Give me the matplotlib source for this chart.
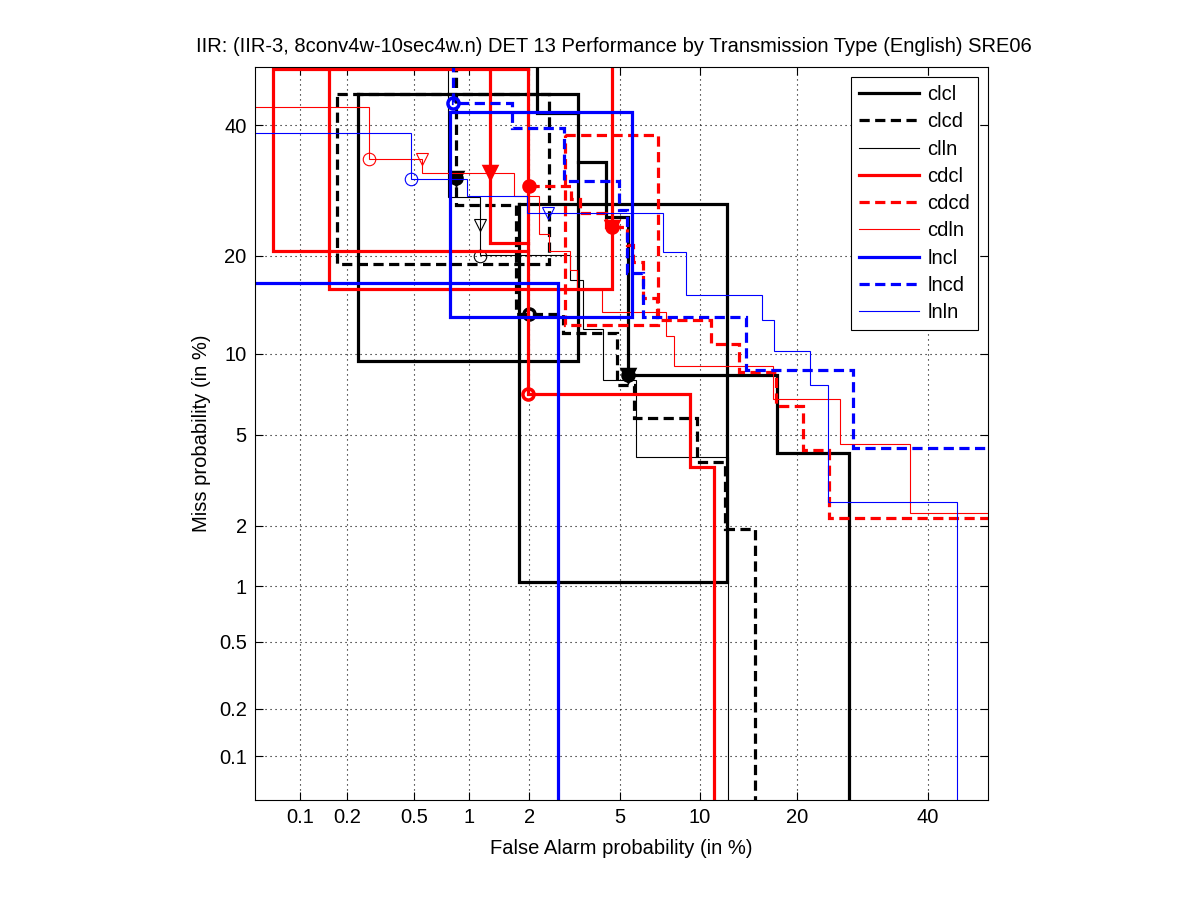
import math
import numpy as np
import matplotlib
matplotlib.use('Agg')
import matplotlib.pyplot as plt
from matplotlib.lines import Line2D

N = np.nan

# DET curves, (false alarm %, miss %); nan breaks a curve into pieces
clcl_fa = [0.233, 3.33, 3.33, 0.233, 0.233, N, 2.18, 2.18, 3.33, N,
           3.33, 4.38, 4.38, 5.41, 5.41, 17.5, 17.5, 27.2, 27.2, N,
           1.79, 12.3, 12.3, 1.79, 1.79]
clcl_miss = [45.4, 45.4, 9.44, 9.44, 45.4, N, 100, 42.1, 42.1, N,
             33.8, 33.8, 25.3, 25.3, 8.42, 8.42, 4.2, 4.2, 0, N,
             27.2, 27.2, 1.05, 1.05, 27.2]

clcd_fa = [0.173, 2.48, 2.48, 0.173, 0.173, N, 0.851, 0.851, 1.73, 1.73, 2.86,
           2.86, 4.89, 4.89, 5.70, 5.70, 9.76, 9.76, 12.12, 12.12, 15.07, 15.07]
clcd_miss = [45.4, 45.4, 19.0, 19.0, 45.4, N, 100, 27.0, 27.0, 13.5, 13.5,
             11.74, 11.74, 7.75, 7.75, 5.83, 5.83, 3.86, 3.86, 1.93, 1.93, 0]

clln_fa = [0.771, 0.771, 1.14, 1.14, 3.08, 3.08, 3.5, 3.5, 4.26, 4.26,
           5.81, 5.81, 12.43, 12.43]
clln_miss = [100, 28.25, 28.25, 20.1, 20.1, 17.1, 17.1, 12.07, 12.07, 8.08,
             8.08, 4.05, 4.05, 0]

cdcl_fa = [1.98, 0.066, 0.066, 1.98, N, 0.154, 0.154, 4.64, 4.64, N,
           1.29, 1.29, 1.98, N, 1.98, 1.98, 9.2, 9.2, 11.15, 11.15]
cdcl_miss = [49.9, 49.9, 20.65, 20.65, N, 100, 16.1, 16.1, 100, N,
             100, 21.6, 21.6, N, 100, 7.2, 7.2, 3.65, 3.65, 0]

cdcd_fa = [2.93, 7.03, 7.03, 2.93, 2.93, N, 2.0, 3.12, 3.12, 3.4, 3.4, 4.4,
           4.4, 5.35, 5.35, 5.65, 5.65, 6.2, 6.2, 7.0, 7.0, 10.9, 10.9, 13.4,
           13.4, 17.4, 17.4, 20.7, 20.7, 24.2, 24.2, 100]
cdcd_miss = [38.3, 38.3, 12.47, 12.47, 38.3, N, 29.9, 29.9, 27.9, 27.9, 25.8,
             25.8, 23.8, 23.8, 21.4, 21.4, 19.2, 19.2, 15.1, 15.1, 12.9, 12.9,
             10.8, 10.8, 8.65, 8.65, 6.45, 6.45, 4.32, 4.32, 2.17, 2.17]

cdln_fa = [0, 0.274, 0.274, 0.554, 0.554, 1.68, 1.68, 2.23, 2.23, 2.48, 2.48,
           3.08, 3.08, 3.3, 3.3, 4.21, 4.21, 7.56, 7.56, 8.1, 8.1, 17.1, 17.1,
           25.8, 25.8, 37.0, 37.0, 100]
cdln_miss = [43.2, 43.2, 34.2, 34.2, 31.9, 31.9, 28.3, 28.3, 22.9, 22.9,
             20.65, 20.65, 18.3, 18.3, 16.0, 16.0, 13.7, 13.7, 11.47, 11.47,
             9.09, 9.09, 6.86, 6.86, 4.56, 4.56, 2.30, 2.30]

lncl_fa = [0, 2.72, 2.72, N, 0.793, 5.58, 5.58, 0.793, 0.793]
lncl_miss = [16.8, 16.8, 0, N, 42.3, 42.3, 13.19, 13.19, 42.3]

lncd_fa = [0.826, 0.826, 1.65, 1.65, 2.89, 2.89, 4.98, 4.98, 5.35, 5.35,
           6.17, 6.17, 14.14, 14.14, 27.8, 27.8, 100]
lncd_miss = [100, 43.8, 43.8, 39.4, 39.4, 30.6, 30.6, 26.3, 26.3, 17.9,
             17.9, 13.19, 13.19, 8.78, 8.78, 4.39, 4.39]

lnln_fa = [0, 0.484, 0.484, 0.973, 0.973, 1.95, 1.95, 7.38, 7.38, 8.91, 8.91,
           15.8, 15.8, 17.2, 17.2, 21.6, 21.6, 24.1, 24.1, 45.2, 45.2]
lnln_miss = [38.7, 38.7, 31.0, 31.0, 28.4, 28.4, 25.8, 25.8, 20.5, 20.5,
             15.45, 15.45, 12.93, 12.93, 10.24, 10.24, 7.75, 7.75, 2.58, 2.58, 0]

# operating points: actual DCF (triangle) and min DCF (circle)
clcl_act = [(5.41, 8.42)]
clcl_min = [(5.41, 8.42)]
clcd_act = [(0.851, 31.2)]
clcd_min = [(0.851, 31.2), (2.0, 13.5)]
clln_act = [(1.14, 24.1)]
clln_min = [(1.14, 20.0)]
cdcl_act = [(1.29, 32.1)]
cdcl_min = [(1.98, 7.2)]
cdcd_act = [(4.64, 23.8)]
cdcd_min = [(2.0, 29.9), (4.64, 23.8)]
cdln_act = [(0.554, 34.2)]
cdln_min = [(0.274, 34.2)]
lncl_act = []
lncl_min = []
lncd_act = []
lncd_min = [(0.826, 43.8)]
lnln_act = [(2.45, 25.8)]
lnln_min = [(0.484, 31.0)]

names = ['clcl', 'clcd', 'clln', 'cdcl', 'cdcd', 'cdln', 'lncl', 'lncd', 'lnln']
curves = [(clcl_fa, clcl_miss), (clcd_fa, clcd_miss), (clln_fa, clln_miss),
          (cdcl_fa, cdcl_miss), (cdcd_fa, cdcd_miss), (cdln_fa, cdln_miss),
          (lncl_fa, lncl_miss), (lncd_fa, lncd_miss), (lnln_fa, lnln_miss)]
points = [(clcl_act, clcl_min), (clcd_act, clcd_min), (clln_act, clln_min),
          (cdcl_act, cdcl_min), (cdcd_act, cdcd_min), (cdln_act, cdln_min),
          (lncl_act, lncl_min), (lncd_act, lncd_min), (lnln_act, lnln_min)]
colors = ['k', 'k', 'k', 'r', 'r', 'r', 'b', 'b', 'b']
kinds = ['thick', 'dash', 'thin'] * 3
solid_min = ['cdcd']

tick_vals = [0.1, 0.2, 0.5, 1, 2, 5, 10, 20, 40]
tick_labels = ['0.1', '0.2', '0.5', '1', '2', '5', '10', '20', '40']


# normal deviate scale (no scipy here)
_a = [-3.969683028665376e+01, 2.209460984245205e+02, -2.759285104469687e+02,
      1.383577518672690e+02, -3.066479806614716e+01, 2.506628277459239e+00]
_b = [-5.447609879822406e+01, 1.615858368580409e+02, -1.556989798598866e+02,
      6.680131188771972e+01, -1.328068155288572e+01]
_c = [-7.784894002430293e-03, -3.223964580411365e-01, -2.400758277161838e+00,
      -2.549732539343734e+00, 4.374664141464968e+00, 2.938163982698783e+00]
_d = [7.784695709041462e-03, 3.224671290700398e-01, 2.445134137142996e+00,
      3.754408661907416e+00]


def ppf(p):
    p = np.clip(np.asarray(p, dtype=float), 1e-9, 1 - 1e-9)
    with np.errstate(invalid='ignore', divide='ignore'):
        q = np.sqrt(-2 * np.log(np.minimum(p, 1 - p)))
        tail = ((((((_c[0] * q + _c[1]) * q + _c[2]) * q + _c[3]) * q + _c[4]) * q + _c[5]) /
                ((((_d[0] * q + _d[1]) * q + _d[2]) * q + _d[3]) * q + 1))
        tail = np.where(p < 0.5, tail, -tail)
        r = p - 0.5
        s = r * r
        mid = ((((((_a[0] * s + _a[1]) * s + _a[2]) * s + _a[3]) * s + _a[4]) * s + _a[5]) * r /
               (((((_b[0] * s + _b[1]) * s + _b[2]) * s + _b[3]) * s + _b[4]) * s + 1))
        lo = 0.02425
        return np.where((p < lo) | (p > 1 - lo), tail, mid)


_erf = np.vectorize(math.erf, otypes=[float])


def fwd(v):
    return ppf(np.asarray(v, dtype=float) / 100.0)


def inv(z):
    z = np.asarray(z, dtype=float)
    return 100.0 * 0.5 * (1 + _erf(z / math.sqrt(2)))


plt.rcParams['font.family'] = ['Liberation Sans', 'DejaVu Sans']
plt.rcParams['font.size'] = 14.5

fig = plt.figure(figsize=(12.01, 9), dpi=100)
ax = fig.add_axes([255 / 1201, 1 - 800 / 900, 733 / 1201, 733 / 900])
ax.set_xscale('function', functions=(fwd, inv))
ax.set_yscale('function', functions=(fwd, inv))

handles = []
for name, (fa, miss), (act, mn), col, kind in zip(names, curves, points, colors, kinds):
    if kind == 'thin':
        lw, ls = 0.8, '-'
    elif kind == 'dash':
        lw, ls = 2.3, (0, (3.2, 1.7))
    else:
        lw, ls = 2.3, '-'
    ax.plot(fa, miss, color=col, lw=lw, ls=ls, solid_joinstyle='miter',
            dash_joinstyle='miter', dash_capstyle='butt')
    handles.append(Line2D([], [], color=col, lw=lw, ls=ls, dash_capstyle='butt'))
    mew = 0.8 if kind == 'thin' else 2.5
    ms = 9 if kind == 'thin' else 8
    tri_fc = 'none' if kind == 'thin' else col
    circ_fc = col if name in solid_min else 'none'
    for x, y in act:
        ax.plot([x], [y], marker='v', ms=ms, mew=mew, mec=col, mfc=tri_fc, ls='none')
    for x, y in mn:
        ax.plot([x], [y], marker='o', ms=ms, mew=mew, mec=col, mfc=circ_fc, ls='none')

ax.set_xlim(0.0495, 50.8)
ax.set_ylim(0.0505, 50.3)
ax.set_xticks(tick_vals)
ax.set_xticklabels(tick_labels)
ax.set_yticks(tick_vals)
ax.set_yticklabels(tick_labels)
ax.minorticks_off()
ax.tick_params(direction='in', top=True, right=True, length=6, width=0.8, pad=6)
ax.grid(True, color='k', ls=(0, (1, 3.5)), lw=0.8)
for sp in ax.spines.values():
    sp.set_linewidth(0.8)

ttl = ax.set_title('IIR: (IIR-3, 8conv4w-10sec4w.n) DET 13 Performance by Transmission Type (English) SRE06',
                   fontsize=14.5, pad=11)
ttl.set_x((614 - 255) / 733)
ax.set_xlabel('False Alarm probability (in %)')
ax.set_ylabel('Miss probability (in %)')
ax.xaxis.set_label_coords(0.5, (800 - 849) / 733)
ax.xaxis.label.set_va('center')
ax.yaxis.set_label_coords((201 - 255) / 733, 0.5)
ax.yaxis.label.set_va('center')

leg = fig.legend(handles, names, loc='upper right',
                 bbox_to_anchor=(978 / 1201, 1 - 77 / 900), borderaxespad=0,
                 handlelength=3.0, handletextpad=0.4, labelspacing=0.41,
                 borderpad=0.4, fancybox=False, framealpha=1, edgecolor='k')
leg.get_frame().set_linewidth(0.8)

fig.savefig('out.png', dpi=100, facecolor='white')
